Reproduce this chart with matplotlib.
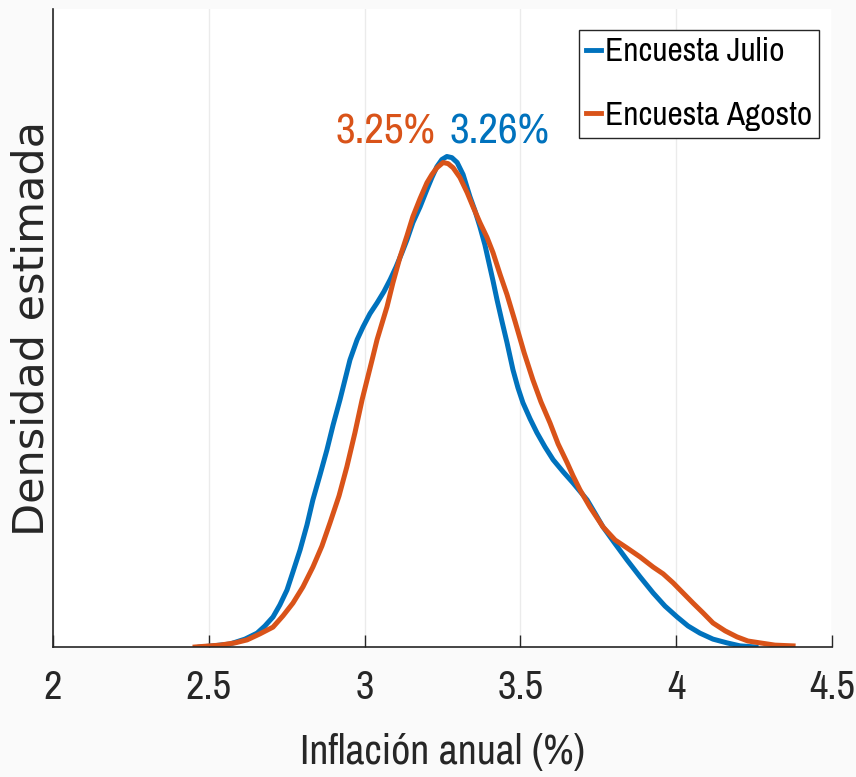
import matplotlib
matplotlib.use("Agg")
from matplotlib import pyplot as plt

# densidad estimada (inflacion anual en %, densidad)
x_julio = [2.472, 2.513, 2.568, 2.616, 2.655, 2.680, 2.706, 2.728, 2.751, 2.770, 2.793,
           2.815, 2.834, 2.857, 2.879, 2.899, 2.921, 2.937, 2.953, 2.976, 2.995, 3.017,
           3.040, 3.062, 3.082, 3.101, 3.120, 3.136, 3.155, 3.178, 3.200, 3.216, 3.232,
           3.248, 3.264, 3.280, 3.297, 3.316, 3.338, 3.354, 3.370, 3.386, 3.399, 3.412,
           3.425, 3.441, 3.457, 3.476, 3.492, 3.508, 3.531, 3.553, 3.579, 3.605, 3.637,
           3.669, 3.714, 3.739, 3.765, 3.804, 3.842, 3.884, 3.926, 3.964, 4.003, 4.038,
           4.076, 4.118, 4.163, 4.205, 4.256]
d_julio = [0.0, 0.003, 0.008, 0.021, 0.037, 0.056, 0.080, 0.112, 0.152, 0.200, 0.259,
           0.325, 0.392, 0.459, 0.525, 0.592, 0.659, 0.712, 0.765, 0.819, 0.853, 0.888,
           0.917, 0.947, 0.979, 1.013, 1.051, 1.085, 1.131, 1.173, 1.219, 1.251, 1.280,
           1.299, 1.307, 1.304, 1.291, 1.259, 1.200, 1.163, 1.120, 1.072, 1.024, 0.976,
           0.925, 0.867, 0.811, 0.739, 0.691, 0.651, 0.608, 0.571, 0.533, 0.499, 0.467,
           0.437, 0.392, 0.357, 0.320, 0.275, 0.232, 0.187, 0.144, 0.109, 0.080, 0.056,
           0.037, 0.021, 0.011, 0.003, 0.0]

x_agosto = [2.456, 2.504, 2.536, 2.584, 2.623, 2.664, 2.706, 2.738, 2.770, 2.802, 2.834,
            2.863, 2.889, 2.918, 2.943, 2.969, 2.992, 3.024, 3.040, 3.072, 3.091, 3.114,
            3.136, 3.155, 3.178, 3.200, 3.216, 3.232, 3.252, 3.268, 3.284, 3.306, 3.329,
            3.348, 3.370, 3.393, 3.412, 3.435, 3.457, 3.483, 3.512, 3.540, 3.566, 3.595,
            3.621, 3.650, 3.669, 3.691, 3.723, 3.765, 3.804, 3.842, 3.884, 3.926, 3.958,
            3.990, 4.022, 4.054, 4.086, 4.118, 4.157, 4.195, 4.230, 4.269, 4.317, 4.375]
d_agosto = [0.0, 0.003, 0.005, 0.011, 0.019, 0.035, 0.053, 0.083, 0.117, 0.160, 0.213,
            0.269, 0.331, 0.403, 0.480, 0.571, 0.659, 0.765, 0.819, 0.907, 0.971, 1.040,
            1.096, 1.147, 1.195, 1.237, 1.259, 1.277, 1.291, 1.288, 1.277, 1.251, 1.211,
            1.173, 1.131, 1.091, 1.051, 0.992, 0.939, 0.867, 0.784, 0.712, 0.653, 0.597,
            0.541, 0.491, 0.456, 0.419, 0.373, 0.320, 0.285, 0.264, 0.240, 0.213, 0.195,
            0.171, 0.144, 0.117, 0.091, 0.064, 0.043, 0.027, 0.016, 0.011, 0.005, 0.003]

etiquetas = ["Encuesta Julio", "Encuesta Agosto"]
medianas = ["3.25%", "3.26%"]
xticks = [2, 2.5, 3, 3.5, 4, 4.5]
xticklabels = ["2", "2.5", "3", "3.5", "4", "4.5"]

azul = "#0072BD"
naranja = "#D95319"
negro = "#262626"

narrow = ["Archivo Narrow", "DejaVu Sans"]

fig = plt.figure(figsize=(8.56, 7.77), dpi=100, facecolor="#fafafa")
ax = fig.add_axes([0.0619, 0.1673, 0.9101, 0.8211])
ax.set_facecolor("white")

ax.plot(x_julio, d_julio, color=azul, lw=3.6, label=etiquetas[0])
ax.plot(x_agosto, d_agosto, color=naranja, lw=3.6, label=etiquetas[1])

# medianas sobre el pico
ax.text(3.226, 1.342, medianas[0], color=naranja, ha="right", va="baseline",
        fontsize=31, family=narrow)
ax.text(3.271, 1.342, medianas[1], color=azul, ha="left", va="baseline",
        fontsize=31, family=narrow)

ax.set_xlim(2, 4.5)
ax.set_ylim(0, 1.7)
ax.set_xticks(xticks)
ax.set_xticklabels(xticklabels, family=narrow, fontsize=29, color=negro)
ax.set_yticks([])
ax.tick_params(axis="x", direction="in", length=9, width=1, color=negro, pad=16)
ax.grid(axis="x", color="#ebebeb", lw=1)
ax.set_axisbelow(True)
for s in ["top", "right"]:
    ax.spines[s].set_visible(False)
for s in ["left", "bottom"]:
    ax.spines[s].set_color(negro)
    ax.spines[s].set_linewidth(1.2)

ax.set_xlabel("Inflación anual (%)", family=narrow, fontsize=30, color=negro, va="top")
ax.xaxis.set_label_coords(0.5, -0.135)
ax.set_ylabel("Densidad estimada", family="DejaVu Sans", fontsize=31, color=negro, labelpad=0)

leg = ax.legend(loc="upper right", bbox_to_anchor=(0.9833, 0.967),
                prop={"family": narrow, "size": 24},
                handlelength=0.45, handletextpad=0.1, borderpad=0.22, labelspacing=1.0,
                borderaxespad=0, fancybox=False, framealpha=1)
leg.get_frame().set_edgecolor(negro)
leg.get_frame().set_linewidth(1)
for h in leg.legend_handles:
    h.set_linewidth(3.5)

fig.savefig("out.png", dpi=100, facecolor=fig.get_facecolor())
